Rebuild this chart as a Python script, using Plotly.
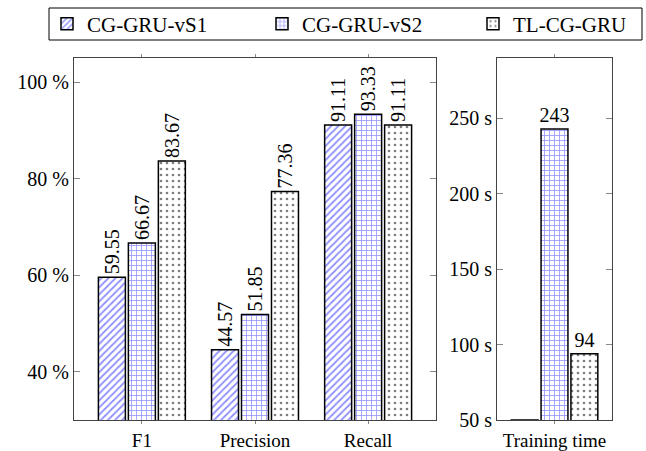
import plotly.graph_objects as go
from plotly.subplots import make_subplots

metrics = ["F1", "Precision", "Recall"]
series_names = ["CG-GRU-vS1", "CG-GRU-vS2", "TL-CG-GRU"]
vs1_metrics = [59.55, 44.57, 91.11]
vs2_metrics = [66.67, 51.85, 93.33]
tl_metrics = [83.67, 77.36, 91.11]

time_cat = ["Training time"]
vs1_time = [50]
vs2_time = [243]
tl_time = [94]

pct_ticks = [40, 60, 80, 100]
pct_labels = ["40 %", "60 %", "80 %", "100 %"]
time_ticks = [50, 100, 150, 200, 250]
time_labels = ["50 s", "100 s", "150 s", "200 s", "250 s"]

W, H = 646, 451
FONT = "Liberation Serif, Times New Roman, serif"
patterns = [
    dict(shape="/", fgcolor="#1f1fff", bgcolor="white", size=5, solidity=0.35, fillmode="overlay"),
    dict(shape="+", fgcolor="#2a2aff", bgcolor="white", size=5, solidity=0.3, fillmode="overlay"),
    dict(shape=".", fgcolor="black", bgcolor="white", size=6, solidity=0.16, fillmode="overlay"),
]
legend_ids = ["legend", "legend2", "legend3"]

fig = make_subplots(rows=1, cols=2)

left_vals = [vs1_metrics, vs2_metrics, tl_metrics]
right_vals = [vs1_time, vs2_time, tl_time]
for i, name in enumerate(series_names):
    fig.add_trace(go.Bar(
        x=metrics, y=left_vals[i], name=name, legendgroup=name, legend=legend_ids[i],
        marker=dict(color="white", pattern=patterns[i], line=dict(color="black", width=1.5)),
        text=[f"{v:.2f}" for v in left_vals[i]], textposition="outside", textangle=-90,
        constraintext="none", cliponaxis=False,
        textfont=dict(family=FONT, size=20, color="black"),
    ), row=1, col=1)
    txt = [("" if (i == 0) else f"{v:g}") for v in right_vals[i]]
    fig.add_trace(go.Bar(
        x=time_cat, y=right_vals[i], name=name, legendgroup=name, showlegend=False,
        marker=dict(color="white", pattern=patterns[i], line=dict(color="black", width=1.5)),
        text=txt, textposition="outside", textangle=0,
        constraintext="none", cliponaxis=False,
        textfont=dict(family=FONT, size=20, color="black"),
    ), row=1, col=2)

ydom = [1 - 420 / H, 1 - 58 / H]
axis_common = dict(showline=True, linecolor="#444", linewidth=1, mirror="ticks",
                   showgrid=False, zeroline=False, tickcolor="#888")
fig.update_xaxes(**axis_common, ticks="outside", ticklen=3,
                 tickfont=dict(family=FONT, size=19, color="black"))
fig.update_yaxes(**axis_common, ticks="inside", ticklen=6,
                 tickfont=dict(family=FONT, size=20, color="black"))

leg_common = dict(orientation="h", yanchor="middle", xanchor="left", y=1 - 24 / H,
                  borderwidth=0, bgcolor="rgba(0,0,0,0)", itemwidth=30,
                  font=dict(family=FONT, size=21, color="black"))
fig.update_layout(
    width=W, height=H,
    margin=dict(l=0, r=0, t=0, b=0, autoexpand=False),
    paper_bgcolor="white", plot_bgcolor="white",
    barmode="group", bargap=0.205, bargroupgap=0.1,
    xaxis=dict(domain=[74 / W, 436 / W], range=[-0.6, 2.6]),
    xaxis2=dict(domain=[497 / W, 612 / W], range=[-0.51, 0.51]),
    yaxis=dict(domain=ydom, range=[30, 105], tickvals=pct_ticks, ticktext=pct_labels),
    yaxis2=dict(domain=ydom, range=[50, 290], tickvals=time_ticks, ticktext=time_labels),
    legend=dict(**leg_common, x=47 / W),
    legend2=dict(**leg_common, x=262 / W),
    legend3=dict(**leg_common, x=473 / W),
    font=dict(family=FONT, color="black"),
    shapes=[dict(type="rect", xref="paper", yref="paper",
                 x0=49 / W, x1=642 / W, y0=1 - 40 / H, y1=1 - 8 / H,
                 line=dict(color="black", width=1), fillcolor="rgba(0,0,0,0)")],
)

fig.write_html("out.html", config={"displayModeBar": False},
               post_script="document.body.style.margin='0';document.body.style.padding='0';")
